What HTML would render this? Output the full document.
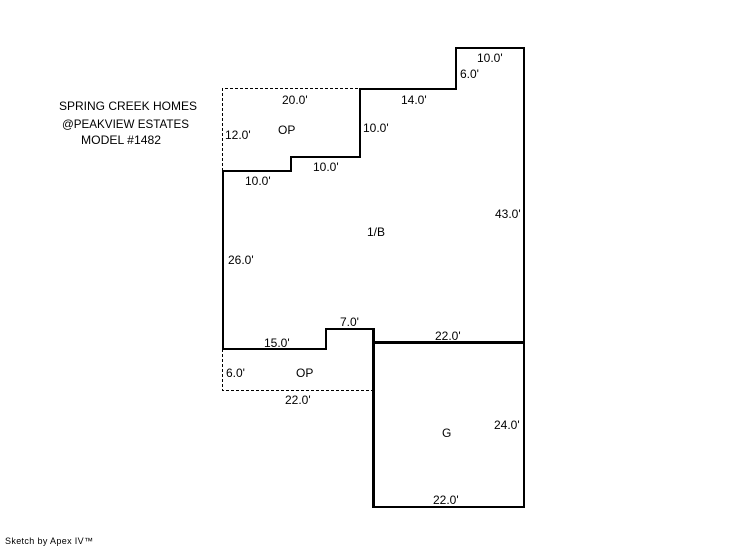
<!DOCTYPE html>
<html>
<head>
<meta charset="utf-8">
<style>
html,body{margin:0;padding:0;background:#fff;width:746px;height:547px;overflow:hidden}
svg{display:block}
text{font-family:"Liberation Sans",sans-serif;font-size:12px;fill:#000}
</style>
</head>
<body>
<svg width="746" height="547" viewBox="0 0 746 547" xmlns="http://www.w3.org/2000/svg">
<g fill="none" stroke="#000" stroke-width="1" stroke-dasharray="3 2">
<path d="M222.500 171V88.500H360"/>
<path d="M222.500 349V390.500H373"/>
</g>
<g fill="none" stroke="#000" stroke-width="2" stroke-linejoin="miter" stroke-linecap="square">
<path d="M360 157V89H456V48H524V507H374"/>
<path d="M223 349V171H291V157H360"/>
<path d="M223 349H326V329H374"/>
</g>
<g fill="none" stroke="#000" stroke-width="3" stroke-linecap="butt">
<path d="M373.500 328V508"/>
<path d="M373 342.500H525"/>
</g>
<text x="59" y="110">SPRING CREEK HOMES</text>
<text x="62" y="128" textLength="127" lengthAdjust="spacingAndGlyphs">@PEAKVIEW ESTATES</text>
<text x="81" y="144" textLength="80" lengthAdjust="spacingAndGlyphs">MODEL #1482</text>
<text x="477" y="62">10.0'</text>
<text x="460" y="78">6.0'</text>
<text x="401" y="104">14.0'</text>
<text x="282" y="104">20.0'</text>
<text x="363" y="132">10.0'</text>
<text x="225" y="139">12.0'</text>
<text x="278" y="134">OP</text>
<text x="313" y="171">10.0'</text>
<text x="245" y="185">10.0'</text>
<text x="495" y="218">43.0'</text>
<text x="367" y="236">1/B</text>
<text x="228" y="264">26.0'</text>
<text x="340" y="326">7.0'</text>
<text x="435" y="340">22.0'</text>
<text x="264" y="347">15.0'</text>
<text x="226" y="377">6.0'</text>
<text x="296" y="377">OP</text>
<text x="285" y="404">22.0'</text>
<text x="494" y="429">24.0'</text>
<text x="442" y="437">G</text>
<text x="433" y="504">22.0'</text>
<text x="5" y="544" style="font-size:9px;letter-spacing:.35px">Sketch by Apex IV™</text>
</svg>
</body>
</html>
